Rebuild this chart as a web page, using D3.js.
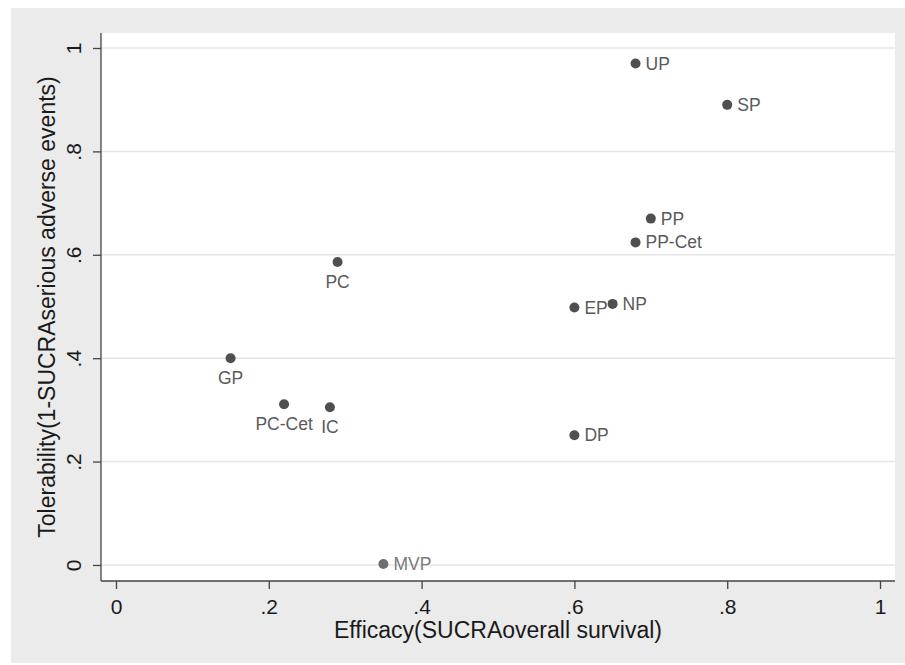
<!DOCTYPE html>
<html><head><meta charset="utf-8">
<script src="https://cdn.jsdelivr.net/npm/d3@7"></script>
<style>body{margin:0;background:#fff;}svg{display:block;}text{font-family:"Liberation Sans",Arial,sans-serif;}</style>
</head><body><div id="chart"></div>
<script>
const labels = ["UP","SP","PP","PP-Cet","PC","EP","NP","GP","PC-Cet","IC","DP","MVP"];
const efficacy = [0.68,0.80,0.70,0.68,0.29,0.60,0.65,0.15,0.22,0.28,0.60,0.35];
const tolerability = [0.97,0.89,0.67,0.624,0.586,0.498,0.505,0.40,0.311,0.305,0.251,0.002];
const labelPos = ["right","right","right","right","below","right","right","below","below","below","right","right"];
const xTicks = [0,0.2,0.4,0.6,0.8,1];
const yTicks = [0,0.2,0.4,0.6,0.8,1];
const tickText = ["0",".2",".4",".6",".8","1"];
const xTitle = "Efficacy(SUCRAoverall survival)";
const yTitle = "Tolerability(1-SUCRAserious adverse events)";

const W = 905, H = 665;
const svg = d3.select("#chart").append("svg").attr("width", W).attr("height", H);
svg.append("rect").attr("x",11).attr("y",8).attr("width",W-11).attr("height",655).attr("fill","#ebebeb");

const pl = 101, pr = 895, pt = 33, pb = 581;
svg.append("rect").attr("x",pl).attr("y",pt).attr("width",pr-pl).attr("height",pb-pt).attr("fill","#fff");

const x = d3.scaleLinear().domain([-0.0196,1.0196]).range([pl,pr]);
const y = d3.scaleLinear().domain([-0.031,1.029]).range([pb,pt]);

// grid
svg.append("g").selectAll("line").data(yTicks).join("line")
  .attr("x1",pl).attr("x2",pr).attr("y1",d=>y(d)).attr("y2",d=>y(d))
  .attr("stroke","#e6e6e6").attr("stroke-width",1.5);

// axes
const xAxis = d3.axisBottom(x).tickValues(xTicks).tickFormat((d,i)=>tickText[i]).tickSize(8).tickPadding(6);
const gx = svg.append("g").attr("transform",`translate(0,${pb})`).call(xAxis);
gx.select(".domain").attr("stroke","#444").attr("stroke-width",1.3).attr("d",`M${pl},0H${pr}`);
gx.selectAll(".tick line").attr("stroke","#444").attr("stroke-width",1.3);
gx.selectAll(".tick text").attr("font-size",21).attr("fill","#1a1a1a").attr("font-family","Liberation Sans, Arial, sans-serif")
  .attr("y",33).attr("dy",null);

const yAxis = d3.axisLeft(y).tickValues(yTicks).tickFormat((d,i)=>tickText[i]).tickSize(8).tickPadding(6);
const gy = svg.append("g").attr("transform",`translate(${pl},0)`).call(yAxis);
gy.select(".domain").attr("stroke","#444").attr("stroke-width",1.3).attr("d",`M0,${pt}V${pb}`);
gy.selectAll(".tick line").attr("stroke","#444").attr("stroke-width",1.3);
gy.selectAll(".tick text").attr("font-size",21).attr("fill","#1a1a1a")
  .attr("font-family","Liberation Sans, Arial, sans-serif")
  .attr("x",null).attr("dy",null)
  .attr("text-anchor","middle")
  .attr("transform","translate(-27,0) rotate(-90)").attr("y",7);

// titles
svg.append("text").attr("x",(pl+pr)/2).attr("y",638).attr("text-anchor","middle")
  .attr("font-size",23).attr("fill","#1a1a1a").text(xTitle);
svg.append("text").attr("transform",`translate(55,${(pt+pb)/2}) rotate(-90)`).attr("text-anchor","middle")
  .attr("font-size",23).attr("fill","#1a1a1a").text(yTitle);

// points
const data = labels.map((l,i)=>({l, x:efficacy[i], y:tolerability[i], p:labelPos[i]}));
svg.append("g").selectAll("circle").data(data).join("circle")
  .attr("cx",d=>x(d.x)).attr("cy",d=>y(d.y)).attr("r",5)
  .attr("fill",d=>d.l==="MVP"?"#6e6e6e":"#4f4f4f");
svg.append("g").selectAll("text").data(data).join("text")
  .attr("x",d=>d.p==="right"? x(d.x)+10 : x(d.x))
  .attr("y",d=>d.p==="right"? y(d.y)+6 : y(d.y)+26)
  .attr("text-anchor",d=>d.p==="right"?"start":"middle")
  .attr("font-size",17.5).attr("fill",d=>d.l==="MVP"?"#7a7a7a":"#5a5a5a").text(d=>d.l);
</script></body></html>
